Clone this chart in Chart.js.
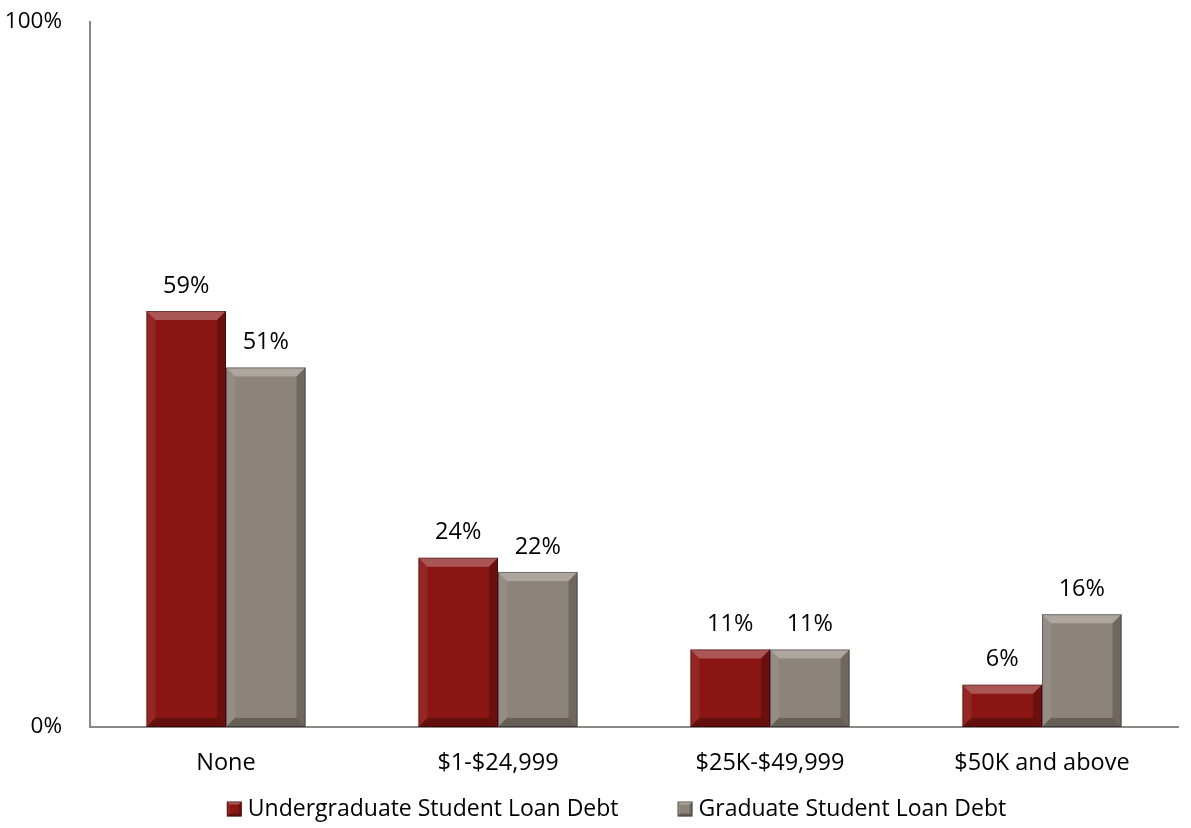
<!DOCTYPE html>
<html>
<head>
<meta charset="utf-8">
<script src="https://cdn.jsdelivr.net/npm/chart.js@4"></script>
<style>
  html, body { margin: 0; padding: 0; background: #fff; }
  #wrap { width: 1191px; height: 828px; }
</style>
</head>
<body>
<div id="wrap"><canvas id="chart" width="1191" height="828"></canvas></div>
<script>
const categories = ['None', '$1-$24,999', '$25K-$49,999', '$50K and above'];
const undergradDebt = [59, 24, 11, 6];
const gradDebt = [51, 22, 11, 16];
const yTicks = [0, 100];

const FONT = "'Open Sans', 'Noto Sans', sans-serif";

// light top/left, dark right/bottom edges -> bevelled bars
function bevel(ctx, l, t, r, b, d) {
    ctx.fillStyle = 'rgba(255,255,255,0.28)';
    ctx.beginPath();
    ctx.moveTo(l, t); ctx.lineTo(r, t); ctx.lineTo(r - d, t + d); ctx.lineTo(l + d, t + d);
    ctx.closePath(); ctx.fill();
    ctx.fillStyle = 'rgba(255,255,255,0.08)';
    ctx.beginPath();
    ctx.moveTo(l, t); ctx.lineTo(l + d, t + d); ctx.lineTo(l + d, b - d); ctx.lineTo(l, b);
    ctx.closePath(); ctx.fill();
    ctx.fillStyle = 'rgba(0,0,0,0.22)';
    ctx.beginPath();
    ctx.moveTo(r, t); ctx.lineTo(r - d, t + d); ctx.lineTo(r - d, b - d); ctx.lineTo(r, b);
    ctx.closePath(); ctx.fill();
    ctx.fillStyle = 'rgba(0,0,0,0.28)';
    ctx.beginPath();
    ctx.moveTo(l, b); ctx.lineTo(r, b); ctx.lineTo(r - d, b - d); ctx.lineTo(l + d, b - d);
    ctx.closePath(); ctx.fill();
    ctx.strokeStyle = 'rgba(0,0,0,0.35)';
    ctx.lineWidth = 1;
    ctx.strokeRect(l + 0.5, t + 0.5, r - l - 1, b - t - 1);
}

const bevelPlugin = {
    id: 'bevel',
    afterDatasetsDraw(chart) {
        const ctx = chart.ctx;
        chart.data.datasets.forEach((ds, i) => {
            chart.getDatasetMeta(i).data.forEach(bar => {
                const l = bar.x - bar.width / 2, r = bar.x + bar.width / 2;
                ctx.save();
                bevel(ctx, l, bar.y, r, bar.base, Math.min(9, (bar.base - bar.y) / 2));
                ctx.restore();
            });
        });
    }
};

const labelPlugin = {
    id: 'valueLabels',
    afterDatasetsDraw(chart) {
        const ctx = chart.ctx;
        ctx.save();
        ctx.font = '23.5px ' + FONT;
        ctx.fillStyle = '#000';
        ctx.textAlign = 'center';
        ctx.textBaseline = 'middle';
        chart.data.datasets.forEach((ds, i) => {
            chart.getDatasetMeta(i).data.forEach((bar, j) => {
                ctx.fillText(ds.data[j] + '%', bar.x, bar.y - 25);
            });
        });
        ctx.restore();
    }
};

// legend drawn by hand: the built-in one can't space items this wide
const legendPlugin = {
    id: 'bottomLegend',
    afterDraw(chart) {
        const ctx = chart.ctx;
        const box = 15, gap = 6, spacing = 59, y = 809;
        ctx.save();
        ctx.font = '23px ' + FONT;
        ctx.textBaseline = 'middle';
        ctx.textAlign = 'left';
        const items = chart.data.datasets.map(ds => ({
            text: ds.label,
            color: ds.backgroundColor,
            w: ctx.measureText(ds.label).width
        }));
        const total = items.reduce((s, it) => s + box + gap + it.w, 0) + spacing * (items.length - 1);
        let x = chart.width / 2 + 21 - total / 2;
        items.forEach(it => {
            ctx.fillStyle = it.color;
            ctx.fillRect(x, y - box / 2, box, box);
            bevel(ctx, x, y - box / 2, x + box, y + box / 2, 3);
            ctx.fillStyle = '#000';
            ctx.fillText(it.text, x + box + gap, y);
            x += box + gap + it.w + spacing;
        });
        ctx.restore();
    }
};

new Chart(document.getElementById('chart'), {
    type: 'bar',
    data: {
        labels: categories,
        datasets: [{
            label: 'Undergraduate Student Loan Debt',
            data: undergradDebt,
            backgroundColor: '#8a1512',
            borderWidth: 0
        },
        {
            label: 'Graduate Student Loan Debt',
            data: gradDebt,
            backgroundColor: '#8c847b',
            borderWidth: 0
        }]
    },
    options: {
        responsive: false,
        animation: false,
        layout: { padding: { left: 4, right: 13, top: 0, bottom: 51 } },
        datasets: { bar: { barPercentage: 1, categoryPercentage: 0.585 } },
        plugins: {
            legend: { display: false },
            tooltip: { enabled: false }
        },
        scales: {
            x: {
                grid: { display: false, drawTicks: false },
                border: { color: '#898989', width: 2 },
                ticks: { font: { family: FONT, size: 23.5 }, color: '#000', padding: 22 },
                afterFit(axis) { axis.height = 50; }
            },
            y: {
                min: 0,
                max: 100,
                afterBuildTicks(axis) { axis.ticks = yTicks.map(v => ({ value: v })); },
                afterFit(axis) {
                    axis.width = 86;
                    axis.paddingTop = 22;
                    axis.paddingBottom = 0;
                },
                grid: { display: false, drawTicks: false },
                border: { color: '#898989', width: 2 },
                ticks: {
                    font: { family: FONT, size: 22.5 },
                    color: '#000',
                    padding: 28,
                    callback: v => v + '%'
                }
            }
        }
    },
    plugins: [bevelPlugin, labelPlugin, legendPlugin]
});
</script>
</body>
</html>
